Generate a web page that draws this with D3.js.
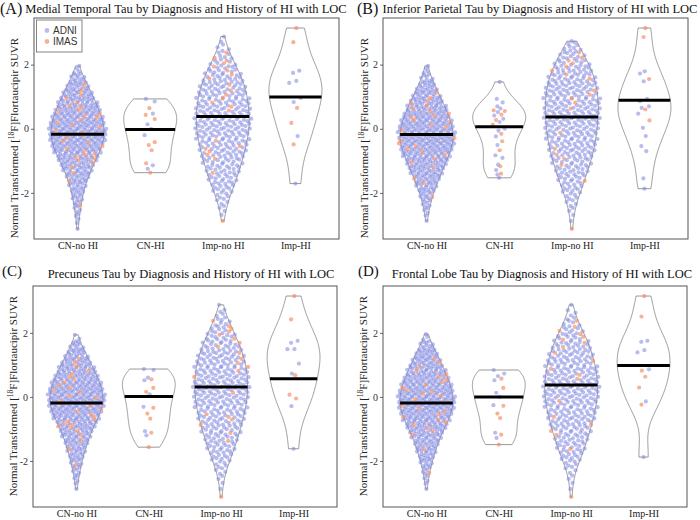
<!DOCTYPE html>
<html><head><meta charset="utf-8">
<script src="https://cdn.jsdelivr.net/npm/d3@7"></script>
<style>body{margin:0;background:#fff}</style>
</head><body>
<svg id="c" width="700" height="520"></svg>
<script>
// ---------------- DATA ----------------
const groups = ["CN-no HI", "CN-HI", "Imp-no HI", "Imp-HI"];
const sources = ["ADNI", "IMAS"];
const yTicks = [-2, 0, 2];
const panelLabels = ["(A)", "(B)", "(C)", "(D)"];
const panelTitles = [
  "Medial Temporal Tau by Diagnosis and History of HI with LOC",
  "Inferior Parietal Tau by Diagnosis and History of HI with LOC",
  "Precuneus Tau by Diagnosis and History of HI with LOC",
  "Frontal Lobe Tau by Diagnosis and History of HI with LOC"
];
// Large groups: counts per 0.25-wide bin, bins from -3.25 to 3.25 (26 bins)
const binStart = -3.25, binStep = 0.25;
const A_CNnoHI_ADNI = [1,2,4,5,8,11,14,19,24,28,36,41,43,41,36,31,27,21,15,10,3,0,0,0,0,0];
const A_CNnoHI_IMAS = [0,0,0,1,0,0,1,1,2,5,3,3,3,3,4,4,2,2,1,0,0,0,0,0,0,0];
const A_ImpnoHI_ADNI = [0,0,2,4,6,10,13,14,17,18,19,22,25,26,25,23,22,21,20,16,12,7,5,3,1,0];
const A_ImpnoHI_IMAS = [0,1,0,0,0,0,0,1,0,2,3,1,0,0,1,2,2,2,1,2,2,3,1,0,0,0];
const B_CNnoHI_ADNI = [0,1,3,6,8,14,17,25,28,34,38,43,43,39,34,29,23,18,13,7,3,0,0,0,0,0];
const B_CNnoHI_IMAS = [0,0,0,0,1,0,2,0,2,2,3,3,2,3,4,3,3,1,0,0,0,0,0,0,0,0];
const B_ImpnoHI_ADNI = [0,1,2,4,6,10,11,15,16,18,21,23,23,25,25,25,24,23,24,20,17,12,10,6,0,0];
const B_ImpnoHI_IMAS = [1,0,0,0,0,0,1,0,1,2,1,0,1,0,1,1,2,2,0,2,2,3,1,0,0,0];
const C_CNnoHI_ADNI = [0,1,3,5,7,11,14,18,22,25,34,40,43,42,38,32,27,20,15,9,2,0,0,0,0,0];
const C_CNnoHI_IMAS = [0,0,0,0,1,0,1,1,2,5,3,3,3,3,3,3,2,2,0,0,0,0,0,0,0,0];
const C_ImpnoHI_ADNI = [0,1,2,4,6,10,13,14,16,19,19,23,25,25,26,24,23,21,20,16,12,8,6,4,1,0];
const C_ImpnoHI_IMAS = [1,0,0,0,0,0,0,1,1,1,3,0,0,1,0,1,2,2,1,2,2,3,1,0,0,0];
const D_CNnoHI_ADNI = [0,1,3,4,8,12,15,20,24,30,36,41,44,40,37,32,27,21,17,10,3,0,0,0,0,0];
const D_CNnoHI_IMAS = [0,0,0,1,0,0,1,0,2,3,3,3,2,4,3,3,2,2,0,0,0,0,0,0,0,0];
const D_ImpnoHI_ADNI = [0,1,2,3,6,10,12,15,15,19,21,23,24,26,25,23,23,21,19,16,11,8,5,3,1,0];
const D_ImpnoHI_IMAS = [1,0,0,0,0,0,1,0,2,1,1,0,1,0,1,2,1,1,1,2,3,2,1,0,0,0];
// Small groups: individual values
const A_CNHI_ADNI = [0.93,0.85,0.47,0.14,0.0,-0.2,-1.14,-1.25];
const A_CNHI_IMAS = [0.64,0.43,0.30,-0.42,-0.51,-0.67,-1.08,-1.37];
const A_ImpHI_ADNI = [1.81,1.74,1.49,1.43,0.96,0.83,-0.23,-1.71];
const A_ImpHI_IMAS = [3.14,2.70,0.65,0.18,-0.49];
const B_CNHI_ADNI = [1.46,0.93,0.82,0.70,0.63,0.52,0.41,0.31,0.21,0.0,-0.06,-0.24,-0.51,-0.83,-0.91,-1.12,-1.29,-1.43,-1.53];
const B_CNHI_IMAS = [0.57,0.55,0.44,0.27,0.13,-0.16,-0.39,-0.67,-1.17,-1.40];
const B_ImpHI_ADNI = [1.79,1.72,1.48,0.93,0.86,0.70,0.65,0.47,0.03,-0.23,-0.54,-0.70,-1.55,-1.87];
const B_ImpHI_IMAS = [3.14,2.86,1.55,0.60,0.26];
const C_CNHI_ADNI = [0.87,0.84,0.60,0.52,0.08,-0.31,-1.07,-1.20];
const C_CNHI_IMAS = [0.55,0.28,0.16,-0.34,-0.52,-0.68,-1.12,-1.57];
const C_ImpHI_ADNI = [1.75,1.69,1.49,1.49,1.04,0.73,-0.29,-1.62];
const C_ImpHI_IMAS = [3.15,2.42,0.68,0.07,-0.05];
const D_CNHI_ADNI = [0.84,0.73,0.65,0.52,0.13,0.0,-0.26,-1.12,-1.28];
const D_CNHI_IMAS = [0.57,0.28,-0.28,-0.52,-0.66,-1.18,-1.49];
const D_ImpHI_ADNI = [1.75,1.72,1.46,1.39,0.86,-0.14,-1.88];
const D_ImpHI_IMAS = [3.15,2.51,0.82,0.63,0.29,-0.24];
// Medians per panel (order of groups)
const A_medians = [-0.17, -0.02, 0.38, 0.99];
const B_medians = [-0.18, 0.06, 0.37, 0.89];
const C_medians = [-0.19, 0.01, 0.31, 0.57];
const D_medians = [-0.19, 0.00, 0.37, 0.98];

// ---------------- BUILD ----------------
function expand(counts) {
  const out = [];
  counts.forEach((c, i) => {
    const lo = binStart + i * binStep;
    for (let k = 0; k < c; k++) out.push(lo + (k + 0.5) / c * binStep);
  });
  return out;
}
const panelData = [
  { data: [[expand(A_CNnoHI_ADNI), expand(A_CNnoHI_IMAS)], [A_CNHI_ADNI, A_CNHI_IMAS], [expand(A_ImpnoHI_ADNI), expand(A_ImpnoHI_IMAS)], [A_ImpHI_ADNI, A_ImpHI_IMAS]], med: A_medians },
  { data: [[expand(B_CNnoHI_ADNI), expand(B_CNnoHI_IMAS)], [B_CNHI_ADNI, B_CNHI_IMAS], [expand(B_ImpnoHI_ADNI), expand(B_ImpnoHI_IMAS)], [B_ImpHI_ADNI, B_ImpHI_IMAS]], med: B_medians },
  { data: [[expand(C_CNnoHI_ADNI), expand(C_CNnoHI_IMAS)], [C_CNHI_ADNI, C_CNHI_IMAS], [expand(C_ImpnoHI_ADNI), expand(C_ImpnoHI_IMAS)], [C_ImpHI_ADNI, C_ImpHI_IMAS]], med: C_medians },
  { data: [[expand(D_CNnoHI_ADNI), expand(D_CNnoHI_IMAS)], [D_CNHI_ADNI, D_CNHI_IMAS], [expand(D_ImpnoHI_ADNI), expand(D_ImpnoHI_IMAS)], [D_ImpHI_ADNI, D_ImpHI_IMAS]], med: D_medians }
];

// layout
const layout = [
  { left: 34, right: 339, top: 18, bottom: 239, labX: 0, labY: 14, labSize: 16, titleX: 186, titleY: 12.5, ylabX: 18, ylabY: 138 },
  { left: 383, right: 688, top: 18, bottom: 239, labX: 357, labY: 14, labSize: 16, titleX: 540, titleY: 12.5, ylabX: 368, ylabY: 138 },
  { left: 33, right: 337, top: 286, bottom: 507, labX: 2, labY: 276, labSize: 15, titleX: 191, titleY: 278, ylabX: 17, ylabY: 396 },
  { left: 383, right: 687, top: 286, bottom: 507, labX: 358, labY: 276, labSize: 15, titleX: 542, titleY: 278, ylabX: 367, ylabY: 396 }
];
const colors = { ADNI: "#7f87e0", IMAS: "#f5885f" };
const opac = { ADNI: 0.55, IMAS: 0.65 };
const serif = "'Liberation Serif','Times New Roman',Times,serif";
const sans = "'Liberation Sans',Arial,Helvetica,sans-serif";

function vdc(n) { let q = 0, bk = 0.5; while (n > 0) { q += (n & 1) * bk; n >>= 1; bk /= 2; } return q; }
function nrd0(arr) {
  const n = arr.length, s = arr.slice().sort(d3.ascending);
  const sd = d3.deviation(s);
  const iqr = d3.quantileSorted(s, 0.75) - d3.quantileSorted(s, 0.25);
  let lo = Math.min(sd, iqr / 1.34);
  if (!(lo > 0)) lo = sd || 1;
  return 0.9 * lo * Math.pow(n, -0.2);
}
function kde(vals) {
  const bw = nrd0(vals);
  const [mn, mx] = d3.extent(vals);
  const N = 256, grid = [];
  for (let j = 0; j < N; j++) {
    const v = mn + (mx - mn) * j / (N - 1);
    let s = 0;
    for (const x of vals) { const u = (v - x) / bw; s += Math.exp(-0.5 * u * u); }
    grid.push({ v, d: s });
  }
  const m = d3.max(grid, g => g.d);
  grid.forEach(g => g.w = g.d / m);
  return grid;
}
function densAt(grid, v) {
  if (v <= grid[0].v) return grid[0].w;
  if (v >= grid[grid.length - 1].v) return grid[grid.length - 1].w;
  const i = d3.bisector(g => g.v).left(grid, v);
  const a = grid[i - 1], b = grid[i];
  const t = (v - a.v) / (b.v - a.v);
  return a.w + t * (b.w - a.w);
}

const svg = d3.select("#c");

panelData.forEach((pd, pi) => {
  const L = layout[pi];
  const g = svg.append("g");
  const allVals = pd.data.flatMap(gr => gr[0].concat(gr[1]));
  const [mn, mx] = d3.extent(allVals);
  const pad = (mx - mn) * 0.05;
  const y = d3.scaleLinear().domain([mn - pad, mx + pad]).range([L.bottom, L.top]);
  const x = d3.scalePoint().domain(groups).range([L.left, L.right]).padding(0.6);
  const step = x.step();
  const halfV = 0.365 * step;

  pd.data.forEach((gr, gi) => {
    const cx = x(groups[gi]);
    const vals = gr[0].concat(gr[1]);
    const grid = kde(vals);
    const large = vals.length > 100;
    // violin
    const area = d3.area().y(d => y(d.v)).x0(d => cx - halfV * d.w).x1(d => cx + halfV * d.w);
    g.append("path").attr("d", area(grid)).attr("fill", "none")
      .attr("stroke", "#555").attr("stroke-width", 0.6);
    // points (quasirandom)
    const pts = gr[0].map(v => ({ v, s: "ADNI" })).concat(gr[1].map(v => ({ v, s: "IMAS" })));
    const sorted = pts.slice().sort((a, b) => a.v - b.v);
    const halfP = large ? 0.4 * step : 0.1 * step;
    sorted.forEach((p, i) => {
      const off = (vdc(i + 1) - 0.5) * 2;
      p.x = cx + off * halfP * densAt(grid, p.v);
    });
    ["ADNI", "IMAS"].forEach(src => {
      g.append("g").selectAll("circle").data(pts.filter(p => p.s === src)).join("circle")
        .attr("cx", p => p.x).attr("cy", p => y(p.v)).attr("r", 2.1)
        .attr("fill", colors[src]).attr("fill-opacity", opac[src]);
    });
    // median line
    const m = pd.med[gi];
    const w = halfV * densAt(grid, m);
    g.append("line").attr("x1", cx - w).attr("x2", cx + w)
      .attr("y1", y(m)).attr("y2", y(m)).attr("stroke", "#000").attr("stroke-width", 3);
  });

  // frame
  g.append("rect").attr("x", L.left).attr("y", L.top)
    .attr("width", L.right - L.left).attr("height", L.bottom - L.top)
    .attr("fill", "none").attr("stroke", "#444").attr("stroke-width", 0.9);

  // y axis
  const yAxis = d3.axisLeft(y).tickValues(yTicks).tickSize(3).tickPadding(2).tickFormat(d3.format("d"));
  const ya = g.append("g").attr("transform", `translate(${L.left},0)`).call(yAxis);
  ya.select(".domain").remove();
  ya.selectAll(".tick line").attr("stroke", "#444").attr("stroke-width", 0.8);
  ya.selectAll(".tick text").attr("font-family", serif).attr("font-size", 10).attr("fill", "#333")
    .text(d => d < 0 ? "-" + Math.abs(d) : d);

  // x axis labels
  const xAxis = d3.axisBottom(x).tickSize(0).tickPadding(3);
  const xa = g.append("g").attr("transform", `translate(0,${L.bottom})`).call(xAxis);
  xa.select(".domain").remove();
  xa.selectAll(".tick text").attr("font-family", serif).attr("font-size", 10).attr("fill", "#222");

  // y label
  const yl = g.append("text").attr("transform", `translate(${L.ylabX},${L.ylabY}) rotate(-90)`)
    .attr("text-anchor", "middle").attr("font-family", serif).attr("font-size", 11).attr("fill", "#222");
  yl.append("tspan").text("Normal Transformed [");
  yl.append("tspan").attr("font-size", 7.5).attr("dy", -4).text("18");
  yl.append("tspan").attr("dy", 4).text("F]Flortaucipir SUVR");

  // panel label + title
  g.append("text").attr("x", L.labX).attr("y", L.labY).attr("font-family", serif)
    .attr("font-size", L.labSize).attr("fill", "#111").text(panelLabels[pi]);
  g.append("text").attr("x", L.titleX).attr("y", L.titleY).attr("text-anchor", "middle")
    .attr("font-family", serif).attr("font-size", 12.5).attr("fill", "#111").text(panelTitles[pi]);

  // legend (panel A only)
  if (pi === 0) {
    const lg = g.append("g");
    lg.append("rect").attr("x", 36.5).attr("y", 20).attr("width", 45.5).attr("height", 32)
      .attr("fill", "#fff").attr("stroke", "#666").attr("stroke-width", 0.8);
    sources.forEach((s, i) => {
      lg.append("circle").attr("cx", 47).attr("cy", 30.5 + i * 11).attr("r", 2.4)
        .attr("fill", colors[s]).attr("fill-opacity", opac[s]);
      lg.append("text").attr("x", 53).attr("y", 34 + i * 11).attr("font-family", sans)
        .attr("font-size", 10).attr("fill", "#333").text(s);
    });
  }
});
</script>
</body></html>
